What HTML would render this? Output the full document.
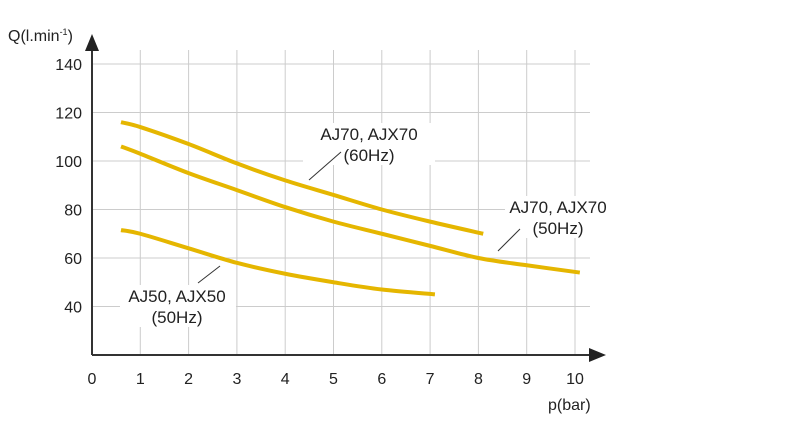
<!DOCTYPE html>
<html><head><meta charset="utf-8"><style>
body{margin:0;background:#fff;width:800px;height:418px;overflow:hidden}
svg text{font-family:"Liberation Sans",sans-serif;fill:#222}
</style></head><body>
<svg id="c" width="800" height="418"></svg>
<script>
const xTicks=[0,1,2,3,4,5,6,7,8,9,10];
const yTicks=[40,60,80,100,120,140];
const xs60=[0.6,1,2,3,4,5,6,7,8.1];
const aj70_60=[116,114,107,99,92,86,80,75,70];
const xs50=[0.6,1,2,3,4,5,6,7,8,9,10.1];
const aj70_50=[106,103,95,88,81,75,70,65,60,57,54];
const xsA50=[0.6,1,2,3,4,5,6,7.1];
const aj50_50=[71.5,70,64,58,53.5,50,47,45];
const X=v=>92+v*48.3, Y=v=>355-(v-20)*2.425;
const NS="http://www.w3.org/2000/svg", svg=document.getElementById('c');
function mk(t,a,p){const e=document.createElementNS(NS,t);for(const k in a)e.setAttribute(k,a[k]);(p||svg).appendChild(e);return e;}
xTicks.forEach(v=>{if(v>0){const l=mk('line',{x1:X(v),x2:X(v),y1:50,y2:355,stroke:'#ccc','stroke-width':1});

}
const t=mk('text',{x:X(v),y:384,'text-anchor':'middle','font-size':16});t.textContent=v;

});
yTicks.forEach(v=>{const l=mk('line',{x1:92,x2:590,y1:Y(v),y2:Y(v),stroke:'#ccc','stroke-width':1});


const t=mk('text',{x:82,y:Y(v)+6,'text-anchor':'end','font-size':16});t.textContent=v;

});
function curve(xa,ya,name){
const P=xa.map((x,i)=>[X(x),Y(ya[i])]);
let d='M'+P[0][0]+','+P[0][1];
for(let i=0;i<P.length-1;i++){
const p0=P[Math.max(0,i-1)],p1=P[i],p2=P[i+1],p3=P[Math.min(P.length-1,i+2)];
const c1x=p1[0]+(p2[0]-p0[0])/6,c1y=p1[1]+(p2[1]-p0[1])/6;
const c2x=p2[0]-(p3[0]-p1[0])/6,c2y=p2[1]-(p3[1]-p1[1])/6;
d+='C'+c1x+','+c1y+' '+c2x+','+c2y+' '+p2[0]+','+p2[1];}
const p=mk('path',{d:d,fill:'none',stroke:'#e5b600','stroke-width':4});

}
curve(xs60,aj70_60,'aj70-60hz-curve');
curve(xs50,aj70_50,'aj70-50hz-curve');
curve(xsA50,aj50_50,'aj50-50hz-curve');
</script>
<svg width="800" height="418" style="position:absolute;left:0;top:0">
<line x1="92" y1="355" x2="595" y2="355" stroke="#333" stroke-width="2"/>
<polygon points="606,355 589,348 589,362" fill="#222"/>
<line x1="92" y1="355" x2="92" y2="45" stroke="#333" stroke-width="2"/>
<polygon points="92,34 85,51 99,51" fill="#222"/>
<text x="8" y="41" font-size="16">Q(l.min<tspan font-size="9" dy="-6">-1</tspan><tspan dy="6">)</tspan></text>
<text x="548" y="410" font-size="16">p(bar)</text>
<rect x="303" y="123" width="132" height="42" fill="#fff"/>
<text x="369" y="140" font-size="17" text-anchor="middle">AJ70, AJX70<tspan x="369" dy="21">(60Hz)</tspan></text>
<line x1="309" y1="180" x2="341" y2="152" stroke="#333" stroke-width="1"/>
<rect x="505" y="196" width="106" height="42" fill="#fff"/>
<text x="558" y="213" font-size="17" text-anchor="middle">AJ70, AJX70<tspan x="558" dy="21">(50Hz)</tspan></text>
<line x1="498" y1="251" x2="520" y2="229" stroke="#333" stroke-width="1"/>
<rect x="120" y="285" width="116" height="42" fill="#fff"/>
<text x="177" y="302" font-size="17" text-anchor="middle">AJ50, AJX50<tspan x="177" dy="21">(50Hz)</tspan></text>
<line x1="198" y1="283" x2="220" y2="266" stroke="#333" stroke-width="1"/>
</svg>
</body></html>
